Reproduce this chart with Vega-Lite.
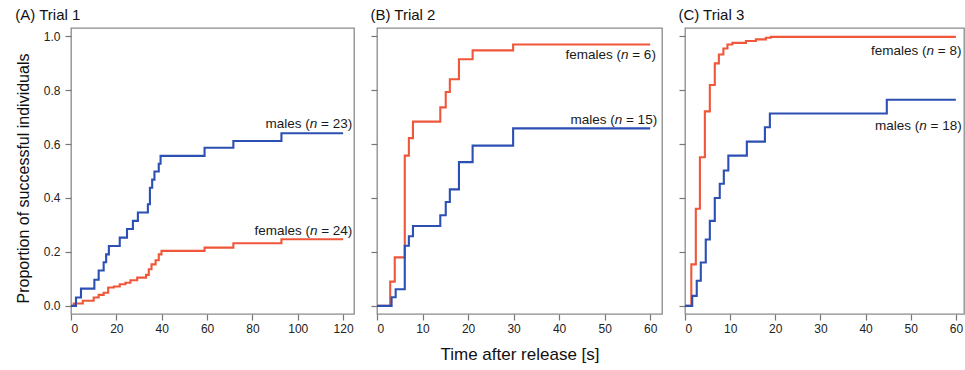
{
  "$schema": "https://vega.github.io/schema/vega-lite/v6.json",
  "padding": {"left": 14, "top": 7, "right": 0, "bottom": 0},
  "background": "white",
  "bounds": "flush",
  "spacing": 23,
  "config": {
    "font": "Liberation Sans",
    "view": {"stroke": "#8a8a8a", "strokeWidth": 1.3},
    "axis": {"domain": false, "grid": false, "tickColor": "#777777", "tickSize": 6, "tickWidth": 1.2,
             "labelFont": "Liberation Sans", "labelFontSize": 12, "labelColor": "#222222",
             "titleFont": "Liberation Sans", "titleFontWeight": "normal", "titleColor": "#111111"},
    "title": {"font": "Liberation Sans", "fontWeight": "normal", "fontSize": 15, "color": "#111111", "anchor": "start", "offset": 5},
    "text": {"font": "Liberation Sans", "fontSize": 13.5, "color": "#1a1a1a", "align": "left", "baseline": "middle"}
  },
  "datasets": {
    "curves": [
      {"panel": "A", "sex": "females", "t": 0, "p": 0},
      {"panel": "A", "sex": "females", "t": 1.2, "p": 0.009},
      {"panel": "A", "sex": "females", "t": 5.2, "p": 0.019},
      {"panel": "A", "sex": "females", "t": 10.0, "p": 0.031},
      {"panel": "A", "sex": "females", "t": 12.2, "p": 0.041},
      {"panel": "A", "sex": "females", "t": 14.4, "p": 0.049},
      {"panel": "A", "sex": "females", "t": 16.4, "p": 0.068},
      {"panel": "A", "sex": "females", "t": 18.9, "p": 0.072},
      {"panel": "A", "sex": "females", "t": 21.5, "p": 0.080},
      {"panel": "A", "sex": "females", "t": 24.0, "p": 0.086},
      {"panel": "A", "sex": "females", "t": 26.2, "p": 0.095},
      {"panel": "A", "sex": "females", "t": 29.2, "p": 0.105},
      {"panel": "A", "sex": "females", "t": 33.1, "p": 0.115},
      {"panel": "A", "sex": "females", "t": 34.3, "p": 0.136},
      {"panel": "A", "sex": "females", "t": 35.5, "p": 0.154},
      {"panel": "A", "sex": "females", "t": 37.3, "p": 0.169},
      {"panel": "A", "sex": "females", "t": 38.7, "p": 0.191},
      {"panel": "A", "sex": "females", "t": 39.9, "p": 0.204},
      {"panel": "A", "sex": "females", "t": 58.9, "p": 0.216},
      {"panel": "A", "sex": "females", "t": 71.6, "p": 0.232},
      {"panel": "A", "sex": "females", "t": 92.8, "p": 0.247},
      {"panel": "A", "sex": "females", "t": 120, "p": 0.247},
      {"panel": "A", "sex": "males", "t": 0, "p": 0},
      {"panel": "A", "sex": "males", "t": 2.2, "p": 0.031},
      {"panel": "A", "sex": "males", "t": 4.4, "p": 0.064},
      {"panel": "A", "sex": "males", "t": 10.3, "p": 0.097},
      {"panel": "A", "sex": "males", "t": 12.2, "p": 0.131},
      {"panel": "A", "sex": "males", "t": 14.4, "p": 0.162},
      {"panel": "A", "sex": "males", "t": 15.5, "p": 0.191},
      {"panel": "A", "sex": "males", "t": 16.7, "p": 0.222},
      {"panel": "A", "sex": "males", "t": 21.5, "p": 0.253},
      {"panel": "A", "sex": "males", "t": 24.7, "p": 0.285},
      {"panel": "A", "sex": "males", "t": 27.3, "p": 0.315},
      {"panel": "A", "sex": "males", "t": 29.5, "p": 0.346},
      {"panel": "A", "sex": "males", "t": 33.9, "p": 0.377},
      {"panel": "A", "sex": "males", "t": 34.8, "p": 0.438},
      {"panel": "A", "sex": "males", "t": 35.8, "p": 0.468},
      {"panel": "A", "sex": "males", "t": 36.8, "p": 0.498},
      {"panel": "A", "sex": "males", "t": 38.7, "p": 0.527},
      {"panel": "A", "sex": "males", "t": 39.5, "p": 0.556},
      {"panel": "A", "sex": "males", "t": 58.9, "p": 0.586},
      {"panel": "A", "sex": "males", "t": 71.6, "p": 0.611},
      {"panel": "A", "sex": "males", "t": 92.8, "p": 0.640},
      {"panel": "A", "sex": "males", "t": 120, "p": 0.640},
      {"panel": "B", "sex": "females", "t": 0, "p": 0},
      {"panel": "B", "sex": "females", "t": 2.9, "p": 0.090},
      {"panel": "B", "sex": "females", "t": 3.9, "p": 0.180},
      {"panel": "B", "sex": "females", "t": 6.1, "p": 0.557},
      {"panel": "B", "sex": "females", "t": 7.0, "p": 0.622},
      {"panel": "B", "sex": "females", "t": 7.9, "p": 0.683},
      {"panel": "B", "sex": "females", "t": 13.9, "p": 0.736},
      {"panel": "B", "sex": "females", "t": 15.1, "p": 0.793},
      {"panel": "B", "sex": "females", "t": 16.0, "p": 0.840},
      {"panel": "B", "sex": "females", "t": 18.0, "p": 0.914},
      {"panel": "B", "sex": "females", "t": 21.0, "p": 0.947},
      {"panel": "B", "sex": "females", "t": 29.9, "p": 0.969},
      {"panel": "B", "sex": "females", "t": 60, "p": 0.969},
      {"panel": "B", "sex": "males", "t": 0, "p": 0},
      {"panel": "B", "sex": "males", "t": 3.2, "p": 0.032},
      {"panel": "B", "sex": "males", "t": 4.1, "p": 0.062},
      {"panel": "B", "sex": "males", "t": 6.1, "p": 0.223},
      {"panel": "B", "sex": "males", "t": 7.0, "p": 0.258},
      {"panel": "B", "sex": "males", "t": 7.9, "p": 0.296},
      {"panel": "B", "sex": "males", "t": 13.9, "p": 0.336},
      {"panel": "B", "sex": "males", "t": 15.1, "p": 0.385},
      {"panel": "B", "sex": "males", "t": 16.0, "p": 0.432},
      {"panel": "B", "sex": "males", "t": 18.0, "p": 0.533},
      {"panel": "B", "sex": "males", "t": 21.0, "p": 0.594},
      {"panel": "B", "sex": "males", "t": 29.9, "p": 0.658},
      {"panel": "B", "sex": "males", "t": 60, "p": 0.658},
      {"panel": "C", "sex": "females", "t": 0, "p": 0},
      {"panel": "C", "sex": "females", "t": 1.4, "p": 0.154},
      {"panel": "C", "sex": "females", "t": 2.4, "p": 0.360},
      {"panel": "C", "sex": "females", "t": 3.3, "p": 0.551},
      {"panel": "C", "sex": "females", "t": 4.4, "p": 0.721},
      {"panel": "C", "sex": "females", "t": 5.5, "p": 0.819},
      {"panel": "C", "sex": "females", "t": 6.6, "p": 0.899},
      {"panel": "C", "sex": "females", "t": 7.5, "p": 0.932},
      {"panel": "C", "sex": "females", "t": 8.5, "p": 0.954},
      {"panel": "C", "sex": "females", "t": 9.4, "p": 0.969},
      {"panel": "C", "sex": "females", "t": 10.5, "p": 0.975},
      {"panel": "C", "sex": "females", "t": 13.5, "p": 0.982},
      {"panel": "C", "sex": "females", "t": 15.7, "p": 0.988},
      {"panel": "C", "sex": "females", "t": 17.9, "p": 0.994},
      {"panel": "C", "sex": "females", "t": 19.0, "p": 0.997},
      {"panel": "C", "sex": "females", "t": 60, "p": 0.997},
      {"panel": "C", "sex": "males", "t": 0, "p": 0},
      {"panel": "C", "sex": "males", "t": 1.6, "p": 0.037},
      {"panel": "C", "sex": "males", "t": 2.6, "p": 0.093},
      {"panel": "C", "sex": "males", "t": 3.5, "p": 0.161},
      {"panel": "C", "sex": "males", "t": 4.6, "p": 0.246},
      {"panel": "C", "sex": "males", "t": 5.5, "p": 0.315},
      {"panel": "C", "sex": "males", "t": 6.6, "p": 0.400},
      {"panel": "C", "sex": "males", "t": 7.7, "p": 0.453},
      {"panel": "C", "sex": "males", "t": 8.6, "p": 0.502},
      {"panel": "C", "sex": "males", "t": 9.6, "p": 0.557},
      {"panel": "C", "sex": "males", "t": 13.7, "p": 0.609},
      {"panel": "C", "sex": "males", "t": 17.7, "p": 0.662},
      {"panel": "C", "sex": "males", "t": 18.8, "p": 0.713},
      {"panel": "C", "sex": "males", "t": 44.7, "p": 0.764},
      {"panel": "C", "sex": "males", "t": 60, "p": 0.764}
    ],
    "labels": [
      {"panel": "A", "sex": "males", "t": 85.8, "p": 0.675, "pre": "males (", "post": "= 23)"},
      {"panel": "A", "sex": "females", "t": 80.9, "p": 0.278, "pre": "females (", "post": "= 24)"},
      {"panel": "B", "sex": "females", "t": 41.4, "p": 0.929, "pre": "females (", "post": "= 6)"},
      {"panel": "B", "sex": "males", "t": 42.5, "p": 0.690, "pre": "males (", "post": "= 15)"},
      {"panel": "C", "sex": "females", "t": 41.2, "p": 0.945, "pre": "females (", "post": "= 8)"},
      {"panel": "C", "sex": "males", "t": 42.1, "p": 0.665, "pre": "males (", "post": "= 18)"}
    ]
  },
  "hconcat": [
    {
      "width": 283, "height": 286,
      "title": {"text": "(A) Trial 1"},
      "encoding": {
        "x": {"field": "t", "type": "quantitative", "scale": {"domain": [0, 124.8], "nice": false, "zero": false},
              "axis": {"values": [0, 20, 40, 60, 80, 100, 120], "title": null, "labelPadding": 3}},
        "y": {"field": "p", "type": "quantitative", "scale": {"domain": [-0.03, 1.03], "nice": false, "zero": false},
              "axis": {"values": [0, 0.2, 0.4, 0.6, 0.8, 1], "format": ".1f", "title": "Proportion of successful individuals",
                       "titleFontSize": 16, "titlePadding": 12, "labelPadding": 5, "titleY": 150}}
      },
      "layer": [
        {"data": {"name": "curves"}, "transform": [{"filter": "datum.panel == 'A'"}],
         "mark": {"type": "line", "interpolate": "step-after", "strokeWidth": 2.1},
         "encoding": {"color": {"field": "sex", "type": "nominal", "scale": {"domain": ["females", "males"], "range": ["#f0573a", "#2c4fb3"]}, "legend": null}}},
        {"data": {"name": "labels"}, "transform": [{"filter": "datum.panel == 'A'"}],
         "mark": {"type": "text"}, "encoding": {"text": {"field": "pre"}}},
        {"data": {"name": "labels"}, "transform": [{"filter": "datum.panel == 'A' && datum.sex == 'males'"}],
         "mark": {"type": "text", "text": "n", "fontStyle": "italic", "dx": 44.25}, "encoding": {}},
        {"data": {"name": "labels"}, "transform": [{"filter": "datum.panel == 'A' && datum.sex == 'males'"}],
         "mark": {"type": "text", "dx": 55.5}, "encoding": {"text": {"field": "post"}}},
        {"data": {"name": "labels"}, "transform": [{"filter": "datum.panel == 'A' && datum.sex == 'females'"}],
         "mark": {"type": "text", "text": "n", "fontStyle": "italic", "dx": 55.5}, "encoding": {}},
        {"data": {"name": "labels"}, "transform": [{"filter": "datum.panel == 'A' && datum.sex == 'females'"}],
         "mark": {"type": "text", "dx": 66.75}, "encoding": {"text": {"field": "post"}}}
      ]
    },
    {
      "width": 285, "height": 286,
      "title": {"text": "(B) Trial 2"},
      "encoding": {
        "x": {"field": "t", "type": "quantitative", "scale": {"domain": [0, 62.6], "nice": false, "zero": false},
              "axis": {"values": [0, 10, 20, 30, 40, 50, 60], "title": "Time after release [s]", "titleFontSize": 17, "titlePadding": 12, "labelPadding": 3}},
        "y": {"field": "p", "type": "quantitative", "scale": {"domain": [-0.03, 1.03], "nice": false, "zero": false},
              "axis": {"values": [0, 0.2, 0.4, 0.6, 0.8, 1], "labels": false, "title": null}}
      },
      "layer": [
        {"data": {"name": "curves"}, "transform": [{"filter": "datum.panel == 'B'"}],
         "mark": {"type": "line", "interpolate": "step-after", "strokeWidth": 2.1},
         "encoding": {"color": {"field": "sex", "type": "nominal", "scale": {"domain": ["females", "males"], "range": ["#f0573a", "#2c4fb3"]}, "legend": null}}},
        {"data": {"name": "labels"}, "transform": [{"filter": "datum.panel == 'B'"}],
         "mark": {"type": "text"}, "encoding": {"text": {"field": "pre"}}},
        {"data": {"name": "labels"}, "transform": [{"filter": "datum.panel == 'B' && datum.sex == 'males'"}],
         "mark": {"type": "text", "text": "n", "fontStyle": "italic", "dx": 44.25}, "encoding": {}},
        {"data": {"name": "labels"}, "transform": [{"filter": "datum.panel == 'B' && datum.sex == 'males'"}],
         "mark": {"type": "text", "dx": 55.5}, "encoding": {"text": {"field": "post"}}},
        {"data": {"name": "labels"}, "transform": [{"filter": "datum.panel == 'B' && datum.sex == 'females'"}],
         "mark": {"type": "text", "text": "n", "fontStyle": "italic", "dx": 55.5}, "encoding": {}},
        {"data": {"name": "labels"}, "transform": [{"filter": "datum.panel == 'B' && datum.sex == 'females'"}],
         "mark": {"type": "text", "dx": 66.75}, "encoding": {"text": {"field": "post"}}}
      ]
    },
    {
      "width": 279, "height": 286,
      "title": {"text": "(C) Trial 3"},
      "encoding": {
        "x": {"field": "t", "type": "quantitative", "scale": {"domain": [0, 61.8], "nice": false, "zero": false},
              "axis": {"values": [0, 10, 20, 30, 40, 50, 60], "title": null, "labelPadding": 3}},
        "y": {"field": "p", "type": "quantitative", "scale": {"domain": [-0.03, 1.03], "nice": false, "zero": false},
              "axis": {"values": [0, 0.2, 0.4, 0.6, 0.8, 1], "labels": false, "title": null}}
      },
      "layer": [
        {"data": {"name": "curves"}, "transform": [{"filter": "datum.panel == 'C'"}],
         "mark": {"type": "line", "interpolate": "step-after", "strokeWidth": 2.1},
         "encoding": {"color": {"field": "sex", "type": "nominal", "scale": {"domain": ["females", "males"], "range": ["#f0573a", "#2c4fb3"]}, "legend": null}}},
        {"data": {"name": "labels"}, "transform": [{"filter": "datum.panel == 'C'"}],
         "mark": {"type": "text"}, "encoding": {"text": {"field": "pre"}}},
        {"data": {"name": "labels"}, "transform": [{"filter": "datum.panel == 'C' && datum.sex == 'males'"}],
         "mark": {"type": "text", "text": "n", "fontStyle": "italic", "dx": 44.25}, "encoding": {}},
        {"data": {"name": "labels"}, "transform": [{"filter": "datum.panel == 'C' && datum.sex == 'males'"}],
         "mark": {"type": "text", "dx": 55.5}, "encoding": {"text": {"field": "post"}}},
        {"data": {"name": "labels"}, "transform": [{"filter": "datum.panel == 'C' && datum.sex == 'females'"}],
         "mark": {"type": "text", "text": "n", "fontStyle": "italic", "dx": 55.5}, "encoding": {}},
        {"data": {"name": "labels"}, "transform": [{"filter": "datum.panel == 'C' && datum.sex == 'females'"}],
         "mark": {"type": "text", "dx": 66.75}, "encoding": {"text": {"field": "post"}}}
      ]
    }
  ]
}
